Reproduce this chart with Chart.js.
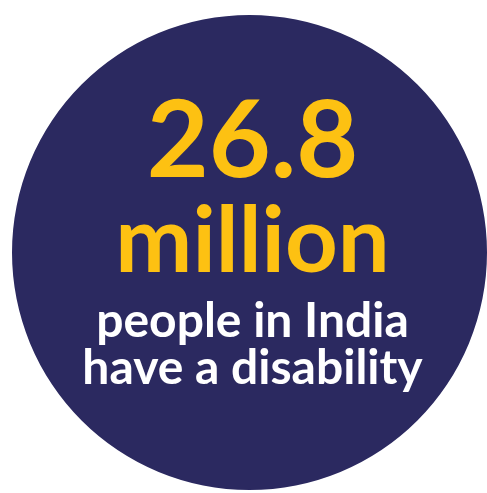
<!DOCTYPE html>
<html lang="en">
<head>
    <meta charset="UTF-8">
    <script src="https://cdn.jsdelivr.net/npm/chart.js@4.4.1/dist/chart.umd.min.js"></script>
    <style>
        body{
            margin: 0;
            padding: 0;
            background-color: white;
        }
        .box{
            width: 487px;
            height: 493px;
        }
    </style>
    <title>disability</title>
</head>
<body>
    <div class="box"><canvas id="mychart"></canvas></div>
    <script>
        // one value, drawn as a full circle
        const labels = ['People with disability (million)'];
        const values = [26.8];
        const bigText = ['26.8', 'million'];
        const smallText = ['people in India', 'have a disability'];

        const textPlugin = {
            id: 'centerText',
            afterDraw(chart) {
                const ctx = chart.ctx;
                const arc = chart.getDatasetMeta(0).data[0];
                const cx = arc.x + 3;
                ctx.save();
                ctx.textAlign = 'center';
                ctx.textBaseline = 'alphabetic';
                ctx.fillStyle = '#fdc112';
                ctx.font = 'bold 107px Lato';
                ctx.fillText(bigText[0], cx, 177);
                ctx.font = 'bold 92px Lato';
                ctx.fillText(bigText[1], cx, 272);
                ctx.fillStyle = '#ffffff';
                ctx.font = 'bold 48px Lato';
                ctx.fillText(smallText[0], cx, 337);
                ctx.fillText(smallText[1], cx, 384);
                ctx.restore();
            }
        };

        const mychart = document.getElementById('mychart').getContext('2d');
        new Chart(mychart, {
            type: 'pie',
            data: {
                labels: labels,
                datasets: [{
                    data: values,
                    backgroundColor: '#2b2960',
                    borderWidth: 0
                }]
            },
            options: {
                responsive: true,
                maintainAspectRatio: false,
                animation: false,
                layout: {padding: {left: 12, right: 0, top: 15, bottom: 3}},
                plugins: {
                    legend: {display: false},
                    tooltip: {enabled: false}
                }
            },
            plugins: [textPlugin]
        });
    </script>
</body>
</html>
